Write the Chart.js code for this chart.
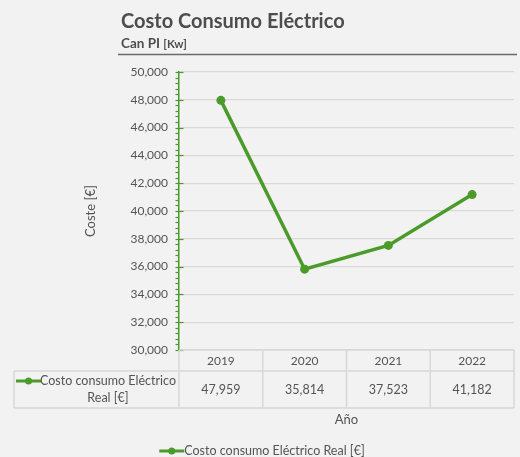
<!DOCTYPE html>
<html>
<head>
<meta charset="utf-8">
<script src="https://cdn.jsdelivr.net/npm/chart.js@4/dist/chart.umd.min.js"></script>
<style>
  html, body { margin: 0; padding: 0; background: #f2f2f2; }
  #wrap { width: 520px; height: 457px; position: relative; }
</style>
</head>
<body>
<div id="wrap"><canvas id="c" width="520" height="457"></canvas></div>
<script>
// Data
const years = ['2019', '2020', '2021', '2022'];
const costoReal = [47959, 35814, 37523, 41182];
const yTickValues = [30000, 32000, 34000, 36000, 38000, 40000, 42000, 44000, 46000, 48000, 50000];
const yMinorStep = 400;

// Text
const titleText = 'Costo Consumo Eléctrico';
const subtitleText = 'Can PI';
const subtitleUnit = '[Kw]';
const seriesName = 'Costo consumo Eléctrico Real [€]';
const seriesNameLines = ['Costo consumo Eléctrico', 'Real [€]'];
const xTitle = 'Año';
const yTitle = 'Coste [€]';

const FONT = 'Lato, "Source Sans Pro", "Noto Sans", sans-serif';
const GREEN = '#4b9b2b';
const TEXT = '#545454';
const GRID = '#d9d9d9';
const BG = '#f2f2f2';

const fmt = v => v.toLocaleString('en-US');

function drawMarker(ctx, x, y) {
  ctx.save();
  ctx.strokeStyle = GREEN;
  ctx.lineWidth = 3;
  ctx.beginPath();
  ctx.moveTo(x, y);
  ctx.lineTo(x + 25, y);
  ctx.stroke();
  ctx.fillStyle = GREEN;
  ctx.beginPath();
  ctx.arc(x + 12.5, y, 3.5, 0, Math.PI * 2);
  ctx.fill();
  ctx.restore();
}

const decor = {
  id: 'decor',
  beforeDraw(chart) {
    const ctx = chart.ctx;
    ctx.save();
    ctx.fillStyle = BG;
    ctx.fillRect(0, 0, chart.width, chart.height);
    ctx.restore();
  },
  afterDraw(chart) {
    const ctx = chart.ctx;
    const xs = chart.scales.x;
    const ys = chart.scales.y;
    const area = chart.chartArea;
    ctx.save();

    // Title block
    ctx.fillStyle = '#4d4d4d';
    ctx.textBaseline = 'alphabetic';
    ctx.textAlign = 'left';
    ctx.font = 'bold 20px ' + FONT;
    ctx.fillText(titleText, 121, 28);
    ctx.font = 'bold 13.5px ' + FONT;
    ctx.fillText(subtitleText, 121, 48);
    const w = ctx.measureText(subtitleText + ' ').width;
    ctx.font = 'bold 11.5px ' + FONT;
    ctx.fillText(subtitleUnit, 121 + w, 48);
    ctx.strokeStyle = '#6a6a6a';
    ctx.lineWidth = 1.5;
    ctx.beginPath();
    ctx.moveTo(118, 54.5);
    ctx.lineTo(517, 54.5);
    ctx.stroke();

    // Y axis tick marks (major and minor)
    ctx.strokeStyle = GREEN;
    ctx.lineWidth = 1.2;
    const axX = ys.right;
    for (let v = ys.min; v <= ys.max + 0.1; v += yMinorStep) {
      const y = Math.round(ys.getPixelForValue(v)) + 0.5;
      const major = yTickValues.includes(v);
      ctx.beginPath();
      ctx.moveTo(axX - 3.5, y);
      ctx.lineTo(major ? axX + 4.5 : axX, y);
      ctx.stroke();
    }

    // Data table below the plot
    const top = area.bottom;
    const headBottom = top + 21;
    const rowBottom = top + 58;
    const left = 14;
    const colW = (area.right - area.left) / years.length;
    ctx.strokeStyle = '#d8d8d8';
    ctx.lineWidth = 1.5;
    ctx.beginPath();
    ctx.moveTo(area.left, top); ctx.lineTo(area.right, top);
    ctx.moveTo(left, headBottom); ctx.lineTo(area.right, headBottom);
    ctx.moveTo(left, rowBottom); ctx.lineTo(area.right, rowBottom);
    ctx.moveTo(left, headBottom); ctx.lineTo(left, rowBottom);
    for (let i = 0; i <= years.length; i++) {
      const x = area.left + i * colW;
      ctx.moveTo(x, top); ctx.lineTo(x, rowBottom);
    }
    ctx.stroke();

    ctx.fillStyle = TEXT;
    ctx.textAlign = 'center';
    ctx.textBaseline = 'middle';
    ctx.font = '12px ' + FONT;
    years.forEach((yr, i) => {
      ctx.fillText(yr, xs.getPixelForValue(i), top + 11);
    });
    ctx.font = '12.5px ' + FONT;
    costoReal.forEach((v, i) => {
      ctx.fillText(fmt(v), xs.getPixelForValue(i), top + 40);
    });
    // Row header: marker plus two centred lines
    const l1w = ctx.measureText(seriesNameLines[0]).width;
    const l1right = area.left - 3;
    ctx.textAlign = 'right';
    ctx.fillText(seriesNameLines[0], l1right, top + 31);
    ctx.textAlign = 'center';
    ctx.fillText(seriesNameLines[1], l1right - l1w / 2, top + 48);
    drawMarker(ctx, 16, top + 31);

    // X axis title
    ctx.textAlign = 'center';
    ctx.font = '13px ' + FONT;
    ctx.fillText(xTitle, (area.left + area.right) / 2, top + 70);

    // Legend
    ctx.font = '12.5px ' + FONT;
    const lw = ctx.measureText(seriesName).width;
    const total = 25 + lw;
    const lx = 262 - total / 2;
    drawMarker(ctx, lx, 451);
    ctx.textAlign = 'left';
    ctx.fillText(seriesName, lx + 25, 451);

    ctx.restore();
  }
};

new Chart(document.getElementById('c'), {
  type: 'line',
  data: {
    labels: years,
    datasets: [{
      label: seriesName,
      data: costoReal,
      borderColor: GREEN,
      backgroundColor: GREEN,
      borderWidth: 3.5,
      pointRadius: 4.5,
      pointBackgroundColor: GREEN,
      pointBorderWidth: 0,
      tension: 0,
      fill: false
    }]
  },
  options: {
    responsive: false,
    animation: false,
    devicePixelRatio: 1,
    layout: { padding: { top: 72, right: 6, bottom: 0, left: 79 } },
    plugins: {
      legend: { display: false },
      tooltip: { enabled: false },
      title: { display: false }
    },
    scales: {
      x: {
        type: 'category',
        offset: true,
        grid: { display: false },
        border: { display: false },
        ticks: { display: false },
        afterFit(scale) { scale.height = 107; }
      },
      y: {
        min: 30000,
        max: 50000,
        afterBuildTicks(scale) { scale.ticks = yTickValues.map(v => ({ value: v })); },
        grid: { color: GRID, lineWidth: 1.2, drawTicks: false },
        border: { display: true, color: GREEN, width: 1.5 },
        ticks: {
          padding: 11,
          color: TEXT,
          font: { family: FONT, size: 12 },
          callback: v => fmt(v)
        },
        title: {
          display: true,
          text: yTitle,
          color: TEXT,
          font: { family: FONT, size: 13 },
          padding: { top: 4, bottom: 4 }
        },
        afterFit(scale) { scale.width = 100; }
      }
    }
  },
  plugins: [decor]
});
</script>
</body>
</html>
